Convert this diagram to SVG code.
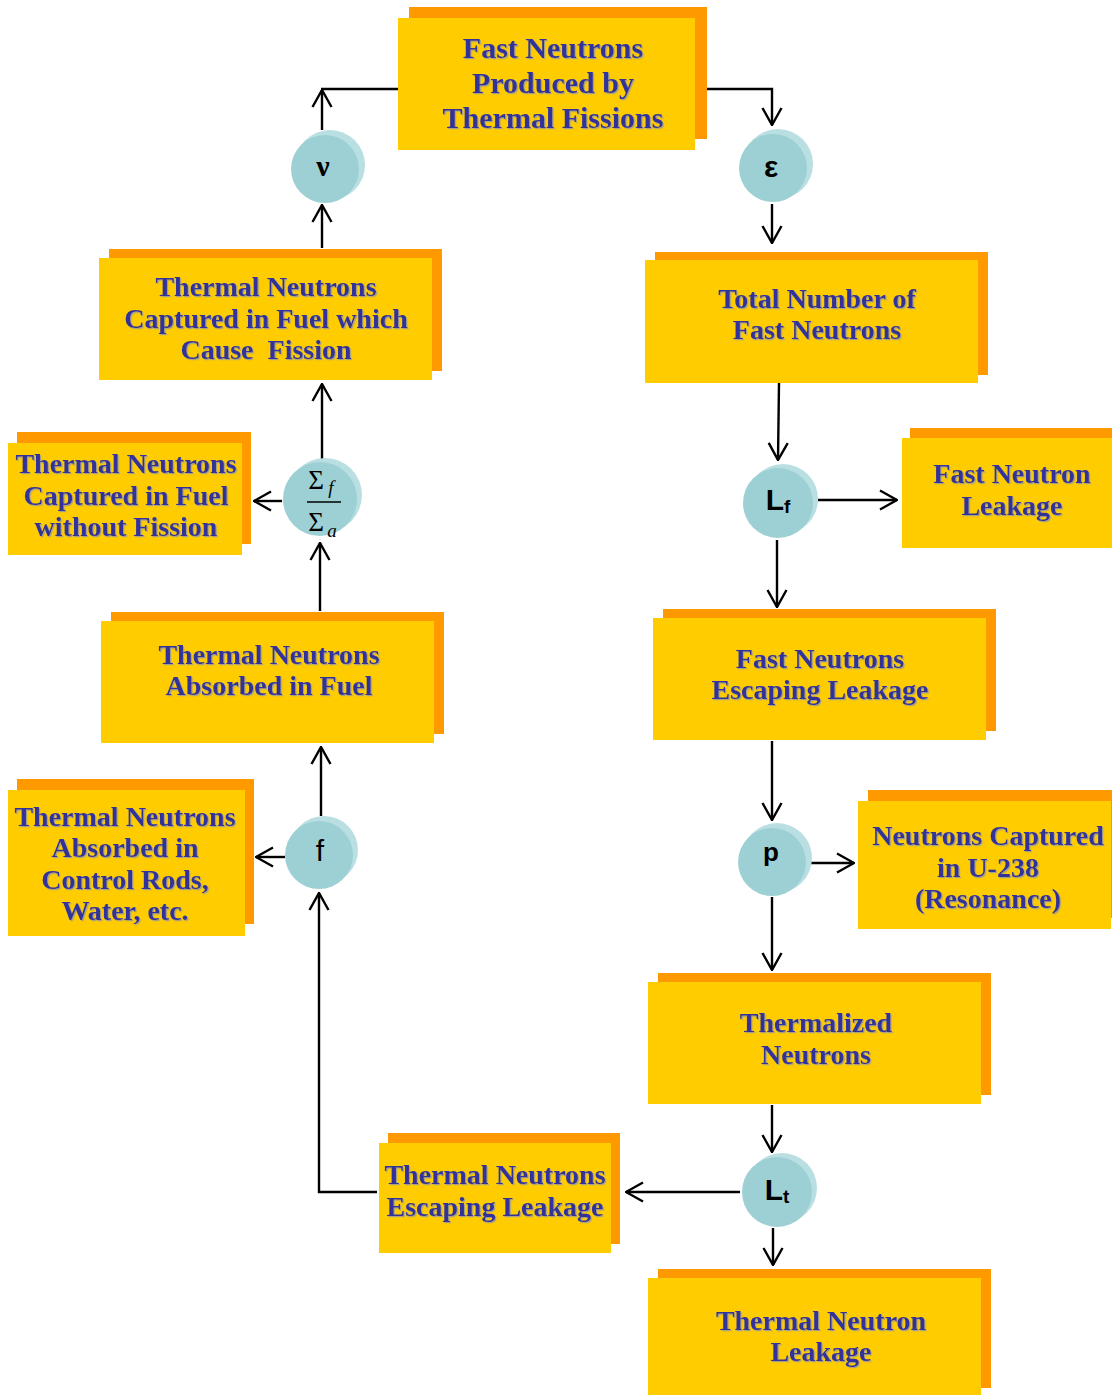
<svg xmlns="http://www.w3.org/2000/svg" width="1112" height="1395" viewBox="0 0 1112 1395">
<style>
.bk{fill:#FF9900}
.fr{fill:#FFCC00}
.t{font-family:"Liberation Serif","Times New Roman",serif;font-weight:bold;font-size:28px;fill:#333399;text-anchor:middle;filter:url(#sh)}
.cb{fill:#BADFE2}
.cf{fill:#9DD0D4}
.sym{font-family:"Liberation Sans",Arial,sans-serif;font-weight:bold;fill:#000;text-anchor:middle}
.ln{fill:none;stroke:#000;stroke-width:2.4}
.ar{marker-end:url(#ah)}
</style>
<defs>
<filter id="sh" x="-5%" y="-20%" width="110%" height="140%">
<feDropShadow dx="1.2" dy="1.2" stdDeviation="0.4" flood-color="#9a9a9a" flood-opacity="0.9"/>
</filter>
<marker id="ah" markerUnits="userSpaceOnUse" viewBox="0 0 20 22" markerWidth="20" markerHeight="22" refX="19" refY="11" orient="auto">
<path d="M2,1.5 L19,11 L2,20.5" fill="none" stroke="#000" stroke-width="2.4"/>
</marker>
</defs>
<rect width="1112" height="1395" fill="#fff"/>

<g id="connectors">
<path class="ln" d="M398,89 H321"/>
<path class="ln ar" d="M322,130 V90"/>
<path class="ln ar" d="M707,89 H772 V125"/>
<path class="ln ar" d="M772,204 V243"/>
<path class="ln ar" d="M779,383 L778,460"/>
<path class="ln ar" d="M818,500 H897"/>
<path class="ln ar" d="M777,540 V607"/>
<path class="ln ar" d="M772,741 V820"/>
<path class="ln ar" d="M807,863 H854"/>
<path class="ln ar" d="M772,897 V970"/>
<path class="ln ar" d="M772,1105 V1152"/>
<path class="ln ar" d="M773,1228 V1265"/>
<path class="ln ar" d="M740,1192 H626"/>
<path class="ln ar" d="M377,1192 H319 V893"/>
<path class="ln ar" d="M321,816 V747"/>
<path class="ln ar" d="M285,857 H256"/>
<path class="ln ar" d="M320,611 V543"/>
<path class="ln ar" d="M282,501 H254"/>
<path class="ln ar" d="M322,460 V384"/>
<path class="ln ar" d="M322,248 V205"/>
</g>

<g id="n-fast-produced">
<rect class="bk" x="409" y="7" width="298" height="132"/>
<rect class="fr" x="398" y="18" width="297" height="132"/>
<text class="t" style="font-size:30px" x="553" y="58">Fast Neutrons</text>
<text class="t" style="font-size:30px" x="553" y="93">Produced by</text>
<text class="t" style="font-size:30px" x="553" y="128">Thermal Fissions</text>
</g>

<g id="n-nu">
<circle class="cb" cx="330" cy="165" r="35"/>
<circle class="cf" cx="325" cy="169" r="34"/>
<text x="323" y="176" style="font-family:'Liberation Serif',serif;font-weight:bold;font-size:30px;text-anchor:middle;fill:#000">ν</text>
</g>

<g id="n-epsilon">
<circle class="cb" cx="778" cy="164" r="35"/>
<circle class="cf" cx="773" cy="168" r="34"/>
<text class="sym" x="771" y="177" style="font-size:30px">ε</text>
</g>

<g id="n-captured-fission">
<rect class="bk" x="109" y="249" width="333" height="122"/>
<rect class="fr" x="99" y="258" width="333" height="122"/>
<text class="t" x="266" y="296">Thermal Neutrons</text>
<text class="t" x="266" y="328">Captured in Fuel which</text>
<text class="t" x="266" y="359" xml:space="preserve">Cause  Fission</text>
</g>

<g id="n-total-fast">
<rect class="bk" x="655" y="252" width="333" height="123"/>
<rect class="fr" x="645" y="260" width="333" height="123"/>
<text class="t" x="817" y="308">Total Number of</text>
<text class="t" x="817" y="339">Fast Neutrons</text>
</g>

<g id="n-captured-nofission">
<rect class="bk" x="17" y="432" width="234" height="112"/>
<rect class="fr" x="8" y="443" width="234" height="112"/>
<text class="t" x="126" y="473">Thermal Neutrons</text>
<text class="t" x="126" y="505">Captured in Fuel</text>
<text class="t" x="126" y="536">without Fission</text>
</g>

<g id="n-sigma">
<circle class="cb" cx="325" cy="495" r="37"/>
<circle class="cf" cx="320" cy="499" r="37"/>
<text x="316" y="489" style="font-family:'Liberation Serif',serif;font-size:27px;text-anchor:middle;fill:#000">Σ</text>
<text x="331" y="494" style="font-family:'Liberation Serif',serif;font-style:italic;font-size:19px;text-anchor:middle;fill:#000">f</text>
<line x1="307" y1="502" x2="341" y2="502" stroke="#000" stroke-width="1.3"/>
<text x="316" y="531" style="font-family:'Liberation Serif',serif;font-size:27px;text-anchor:middle;fill:#000">Σ</text>
<text x="332" y="537" style="font-family:'Liberation Serif',serif;font-style:italic;font-size:19px;text-anchor:middle;fill:#000">a</text>
</g>

<g id="n-lf">
<circle class="cb" cx="783" cy="499" r="35"/>
<circle class="cf" cx="778" cy="503" r="35"/>
<text class="sym" x="778" y="510" style="font-size:30px"><tspan>L</tspan><tspan font-size="19" dy="3">f</tspan></text>
</g>

<g id="n-fast-leakage">
<rect class="bk" x="910" y="428" width="202" height="112"/>
<rect class="fr" x="902" y="438" width="210" height="110"/>
<text class="t" x="1012" y="483">Fast Neutron</text>
<text class="t" x="1012" y="515">Leakage</text>
</g>

<g id="n-absorbed-fuel">
<rect class="bk" x="111" y="612" width="333" height="122"/>
<rect class="fr" x="101" y="621" width="333" height="122"/>
<text class="t" x="269" y="664">Thermal Neutrons</text>
<text class="t" x="269" y="695">Absorbed in Fuel</text>
</g>

<g id="n-fast-escaping">
<rect class="bk" x="663" y="609" width="333" height="122"/>
<rect class="fr" x="653" y="618" width="333" height="122"/>
<text class="t" x="820" y="668">Fast Neutrons</text>
<text class="t" x="820" y="699">Escaping Leakage</text>
</g>

<g id="n-control-rods">
<rect class="bk" x="17" y="779" width="237" height="145"/>
<rect class="fr" x="8" y="790" width="237" height="146"/>
<text class="t" x="125" y="826">Thermal Neutrons</text>
<text class="t" x="125" y="857">Absorbed in</text>
<text class="t" x="125" y="889">Control Rods,</text>
<text class="t" x="125" y="920">Water, etc.</text>
</g>

<g id="n-f">
<circle class="cb" cx="324" cy="850" r="34"/>
<circle class="cf" cx="319" cy="855" r="34"/>
<text x="320" y="861" style="font-family:'Liberation Sans',Arial,sans-serif;font-size:30px;text-anchor:middle;fill:#000">f</text>
</g>

<g id="n-p">
<circle class="cb" cx="777" cy="858" r="35"/>
<circle class="cf" cx="772" cy="862" r="34"/>
<text class="sym" x="771" y="861" style="font-size:26px">p</text>
</g>

<g id="n-u238">
<rect class="bk" x="868" y="790" width="244" height="128"/>
<rect class="fr" x="858" y="801" width="253" height="128"/>
<text class="t" x="988" y="845">Neutrons Captured</text>
<text class="t" x="988" y="877">in U-238</text>
<text class="t" x="988" y="908">(Resonance)</text>
</g>

<g id="n-thermalized">
<rect class="bk" x="658" y="973" width="333" height="122"/>
<rect class="fr" x="648" y="982" width="333" height="122"/>
<text class="t" x="816" y="1032">Thermalized</text>
<text class="t" x="816" y="1064">Neutrons</text>
</g>

<g id="n-lt">
<circle class="cb" cx="782" cy="1188" r="35"/>
<circle class="cf" cx="777" cy="1192" r="35"/>
<text class="sym" x="777" y="1200" style="font-size:30px"><tspan>L</tspan><tspan font-size="19" dy="3">t</tspan></text>
</g>

<g id="n-thermal-escaping">
<rect class="bk" x="388" y="1133" width="232" height="111"/>
<rect class="fr" x="379" y="1143" width="232" height="110"/>
<text class="t" x="495" y="1184">Thermal Neutrons</text>
<text class="t" x="495" y="1216">Escaping Leakage</text>
</g>

<g id="n-thermal-leakage">
<rect class="bk" x="658" y="1269" width="333" height="119"/>
<rect class="fr" x="648" y="1278" width="333" height="117"/>
<text class="t" x="821" y="1330">Thermal Neutron</text>
<text class="t" x="821" y="1361">Leakage</text>
</g>
</svg>
